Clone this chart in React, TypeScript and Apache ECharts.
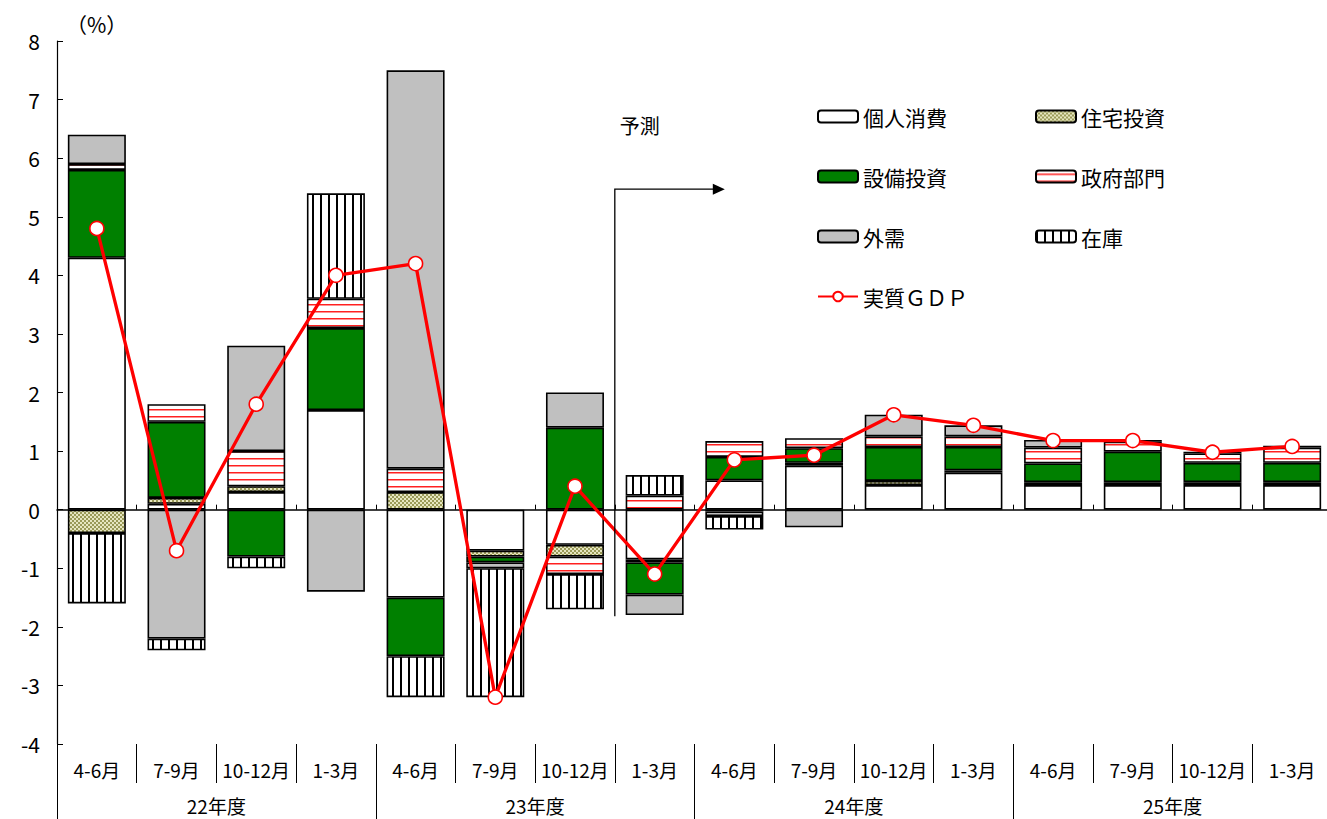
import React, { useEffect, useRef } from 'react';
import * as echarts from 'echarts';

const quarters = ['4-6月', '7-9月', '10-12月', '1-3月', '4-6月', '7-9月', '10-12月', '1-3月', '4-6月', '7-9月', '10-12月', '1-3月', '4-6月', '7-9月', '10-12月', '1-3月'];
const fiscalYears = ['22年度', '23年度', '24年度', '25年度'];

const consumption = [4.3, 0.1, 0.3, 1.7, -1.5, -0.7, -0.6, -0.85, 0.5, 0.75, 0.42, 0.63, 0.42, 0.42, 0.42, 0.42];
const housing = [-0.4, 0.1, 0.1, null, 0.3, -0.1, -0.2, -0.05, -0.03, 0.05, 0.07, 0.04, 0.05, 0.05, 0.05, 0.05];
const capex = [1.5, 1.3, -0.8, 1.4, -1.0, -0.1, 1.4, -0.55, 0.4, 0.25, 0.58, 0.4, 0.32, 0.52, 0.33, 0.33];
const government = [0.1, 0.3, 0.6, 0.5, 0.4, null, -0.3, 0.24, 0.27, 0.17, 0.18, 0.18, 0.27, 0.17, 0.16, 0.26];
const netExports = [0.5, -2.2, 1.8, -1.4, 6.8, -0.1, 0.6, -0.35, -0.08, -0.3, 0.37, 0.19, 0.13, 0.03, null, null];
const inventory = [-1.2, -0.2, -0.2, 1.8, -0.7, -2.2, -0.6, 0.35, -0.23, null, null, null, null, null, 0.03, 0.03];
const realGDP = [4.8, -0.7, 1.8, 4.0, 4.2, -3.2, 0.4, -1.1, 0.85, 0.93, 1.62, 1.44, 1.18, 1.18, 0.98, 1.08];

const FONT = '"Noto Sans CJK JP", "Noto Sans", sans-serif';

function makeCanvas(w: number, h: number, draw: (ctx: CanvasRenderingContext2D) => void) {
  const c = document.createElement('canvas');
  c.width = w;
  c.height = h;
  const ctx = c.getContext('2d')!;
  draw(ctx);
  return c;
}

function housingPattern() {
  const c = makeCanvas(4, 4, (ctx) => {
    ctx.fillStyle = '#e6e6c0';
    ctx.fillRect(0, 0, 4, 4);
    ctx.fillStyle = '#9a9a58';
    ctx.fillRect(0, 0, 2, 2);
    ctx.fillRect(2, 2, 2, 2);
  });
  return { image: c, repeat: 'repeat', imageWidth: 4, imageHeight: 4 } as any;
}

function govPattern() {
  const c = makeCanvas(4, 7, (ctx) => {
    ctx.fillStyle = '#ffffff';
    ctx.fillRect(0, 0, 4, 7);
    ctx.fillStyle = '#ff2020';
    ctx.fillRect(0, 3, 4, 1);
    ctx.fillStyle = '#ff9090';
    ctx.fillRect(0, 4, 4, 1);
  });
  return { image: c, repeat: 'repeat', imageWidth: 4, imageHeight: 7 } as any;
}

function inventoryPattern() {
  const c = makeCanvas(8, 4, (ctx) => {
    ctx.fillStyle = '#ffffff';
    ctx.fillRect(0, 0, 8, 4);
    ctx.fillStyle = '#000000';
    ctx.fillRect(0, 0, 2, 4);
  });
  return { image: c, repeat: 'repeat', imageWidth: 8, imageHeight: 4 } as any;
}

export default function App() {
  const ref = useRef<HTMLDivElement>(null);

  useEffect(() => {
    if (!ref.current) return;
    const chart = echarts.init(ref.current, undefined, { renderer: 'svg' });

    const barBase = (name: string, data: (number | null)[], color: any) => ({
      name,
      type: 'bar',
      stack: 'total',
      data,
      barWidth: 58,
      xAxisIndex: 0,
      yAxisIndex: 0,
      itemStyle: { color, borderColor: '#000', borderWidth: 1.6 },
      emphasis: { disabled: true },
    });

    const option: any = {
      animation: false,
      backgroundColor: '#ffffff',
      grid: { left: 57, top: 41, width: 1275, height: 703, containLabel: false, outerBoundsMode: 'none' },
      legend: [
        {
          orient: 'vertical',
          left: 817,
          top: 106,
          padding: 0,
          itemWidth: 40,
          itemHeight: 12,
          itemGap: 39,
          selectedMode: false,
          textStyle: { fontFamily: FONT, fontSize: 21, lineHeight: 21, color: '#000' },
          data: ['個人消費', '設備投資', '外需', '実質ＧＤＰ'],
        },
        {
          orient: 'vertical',
          left: 1035,
          top: 106,
          padding: 0,
          itemWidth: 40,
          itemHeight: 12,
          itemGap: 39,
          selectedMode: false,
          textStyle: { fontFamily: FONT, fontSize: 21, lineHeight: 21, color: '#000' },
          data: ['住宅投資', '政府部門', '在庫'],
        },
      ],
      xAxis: [
        {
          type: 'category',
          data: quarters,
          boundaryGap: true,
          axisLine: { show: true, onZero: true, lineStyle: { color: '#000', width: 1.5 } },
          axisTick: { show: true, inside: true, length: 5, interval: 0, lineStyle: { color: '#000' } },
          axisLabel: { show: false },
          splitLine: { show: false },
        },
        {
          type: 'category',
          data: quarters,
          position: 'bottom',
          boundaryGap: true,
          axisLine: { show: false, onZero: false },
          axisTick: { show: true, inside: false, length: 39, interval: 0, lineStyle: { color: '#000', width: 1 } },
          axisLabel: { show: true, interval: 0, margin: 16, fontFamily: FONT, fontSize: 19, color: '#000' },
          splitLine: { show: false },
        },
        {
          type: 'category',
          data: fiscalYears,
          position: 'bottom',
          offset: 39,
          boundaryGap: true,
          axisLine: { show: false, onZero: false },
          axisTick: { show: true, inside: false, length: 36, interval: 0, lineStyle: { color: '#000', width: 1 } },
          axisLabel: { show: true, interval: 0, margin: 13, fontFamily: FONT, fontSize: 19, color: '#000' },
          splitLine: { show: false },
        },
      ],
      yAxis: {
        type: 'value',
        min: -4,
        max: 8,
        interval: 1,
        axisLine: { show: true, lineStyle: { color: '#000', width: 1.2 } },
        axisTick: { show: true, inside: true, length: 6, lineStyle: { color: '#000' } },
        axisLabel: { margin: 17, fontFamily: FONT, fontSize: 21, color: '#000' },
        splitLine: { show: false },
      },
      series: [
        barBase('個人消費', consumption, '#ffffff'),
        barBase('住宅投資', housing, housingPattern()),
        barBase('設備投資', capex, '#008000'),
        barBase('政府部門', government, govPattern()),
        barBase('外需', netExports, '#c0c0c0'),
        barBase('在庫', inventory, inventoryPattern()),
        {
          name: '実質ＧＤＰ',
          type: 'line',
          data: realGDP,
          xAxisIndex: 0,
          yAxisIndex: 0,
          z: 10,
          symbol: 'circle',
          symbolSize: 14,
          lineStyle: { color: '#ff0000', width: 3.3 },
          itemStyle: { color: '#ffffff', borderColor: '#ff0000', borderWidth: 1.6 },
          emphasis: { disabled: true },
        },
      ],
    };

    chart.setOption(option);

    const xa = chart.convertToPixel({ xAxisIndex: 0 }, 6) as number;
    const xb = chart.convertToPixel({ xAxisIndex: 0 }, 7) as number;
    const bx = (xa + xb) / 2;
    const yCorner = chart.convertToPixel({ yAxisIndex: 0 }, 5.47) as number;
    const yBottom = chart.convertToPixel({ yAxisIndex: 0 }, -1.82) as number;
    const yText = chart.convertToPixel({ yAxisIndex: 0 }, 6.56) as number;
    const arrowEnd = bx + 110;

    chart.setOption({
      graphic: [
        {
          type: 'text',
          left: 66,
          top: 13,
          style: { text: '（%）', fontFamily: FONT, fontSize: 21, fill: '#000' },
        },
        {
          type: 'polyline',
          shape: { points: [[bx, yBottom], [bx, yCorner], [arrowEnd - 10, yCorner]] },
          style: { stroke: '#000', lineWidth: 1.3, fill: 'none' },
          z: 20,
        },
        {
          type: 'polygon',
          shape: { points: [[arrowEnd - 12, yCorner - 5.5], [arrowEnd, yCorner], [arrowEnd - 12, yCorner + 5.5]] },
          style: { fill: '#000' },
          z: 20,
        },
        {
          type: 'text',
          x: bx + 5,
          y: yText,
          style: { text: '予測', fontFamily: FONT, fontSize: 20, fill: '#000', verticalAlign: 'middle', align: 'left' },
          z: 20,
        },
      ],
    });

    return () => {
      chart.dispose();
    };
  }, []);

  return (
    <div
      ref={ref}
      style={{ position: 'absolute', left: 0, top: 0, width: 1327, height: 819, background: '#fff' }}
    />
  );
}
